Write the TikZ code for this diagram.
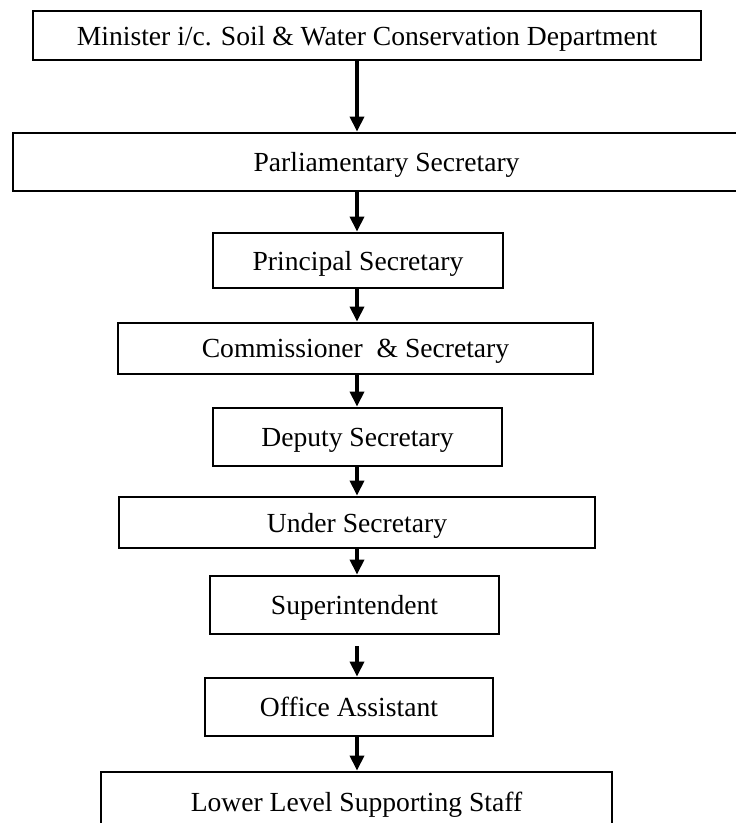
\documentclass[tikz,border=0pt]{standalone}
\usepackage{fontspec}
\setmainfont{Liberation Serif}
\usetikzlibrary{arrows.meta}
\tikzstyle{bx} = [rectangle, draw, line width=2.8pt, inner sep=0pt, text depth=0pt,
    text centered, minimum height=55pt, font=\fontsize{27.6}{32}\selectfont]

\begin{document}
\begin{tikzpicture}[-{Triangle[width=14pt,length=15pt]},line width=3.3pt,
                    node distance=88pt]
  \useasboundingbox (0pt,0pt) rectangle (736pt,-823pt);
  \coordinate (spine) at (357pt,0pt);

  \node[bx,minimum width=668pt,minimum height=49pt] (1) at (367pt,-35.5pt) {Minister i/c. Soil \& Water Conservation Department};
  \node[bx,minimum width=747pt,minimum height=58pt] (2) [below of=1,xshift=19.5pt,yshift=-38.5pt] {Parliamentary Secretary};
  \node[bx,minimum width=290pt] (3) [below of=2,xshift=-28.5pt,yshift=-10.5pt] {Principal Secretary};
  \node[bx,minimum width=475pt,minimum height=51pt] (4) [below of=3,xshift=-2.5pt] {Commissioner~ \& Secretary};
  \node[bx,minimum width=289pt,minimum height=58pt] (5) [below of=4,xshift=2pt,yshift=-0.5pt] {Deputy Secretary};
  \node[bx,minimum width=476pt,minimum height=51pt] (6) [below of=5,xshift=-0.5pt,yshift=2.5pt] {Under Secretary};
  \node[bx,minimum width=289pt,minimum height=58pt] (7) [below of=6,xshift=-2.5pt,yshift=5.5pt] {Superintendent};
  \node[bx,minimum width=288pt,minimum height=58pt] (8) [below of=7,xshift=-5.5pt,yshift=-14pt] {Office Assistant};
  \node[bx,minimum width=511pt,minimum height=60pt] (9) [below of=8,xshift=7.5pt,yshift=-7pt] {Lower Level Supporting Staff};

  \path (1.south -| spine) edge (2.north -| spine)
  (2.south -| spine) edge (3.north -| spine)
  (3.south -| spine) edge (4.north -| spine)
  (4.south -| spine) edge (5.north -| spine)
  (5.south -| spine) edge (6.north -| spine)
  (6.south -| spine) edge (7.north -| spine)
  (7.south -| spine) edge [shorten <=11pt] (8.north -| spine)
  (8.south -| spine) edge (9.north -| spine);
\end{tikzpicture}
\end{document}
